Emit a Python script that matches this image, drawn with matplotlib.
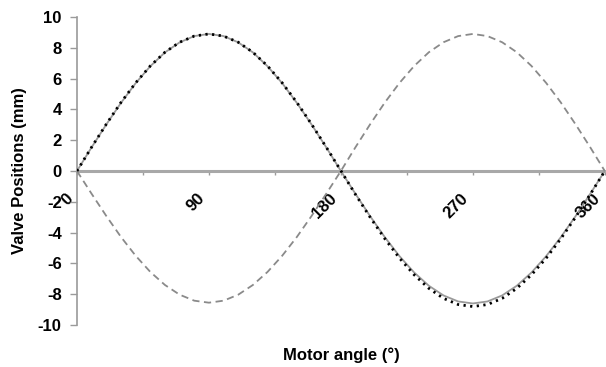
import matplotlib
matplotlib.use("Agg")
import matplotlib.pyplot as plt
from matplotlib.transforms import ScaledTranslation

# --- data ---
angle = list(range(0, 361, 10))

# measured valve position (black dotted)
dotted = [0, 1.55, 3.04, 4.45, 5.72, 6.82, 7.71, 8.36, 8.76, 8.90,
          8.76, 8.36, 7.71, 6.82, 5.72, 4.45, 3.04, 1.55, 0.02,
          -1.53, -3.01, -4.40, -5.66, -6.74, -7.62, -8.27, -8.67, -8.80,
          -8.67, -8.27, -7.62, -6.74, -5.66, -4.40, -3.01, -1.53, 0]

# model valve position (grey solid)
solid = [0, 1.54, 3.02, 4.42, 5.70, 6.80, 7.70, 8.35, 8.76, 8.90,
         8.76, 8.35, 7.70, 6.80, 5.70, 4.42, 3.02, 1.54, 0,
         -1.49, -2.94, -4.30, -5.53, -6.59, -7.45, -8.08, -8.47, -8.60,
         -8.47, -8.08, -7.45, -6.59, -5.53, -4.30, -2.94, -1.49, 0]

# second valve (grey dashed)
dashed = [0, -1.48, -2.92, -4.28, -5.50, -6.55, -7.40, -8.03, -8.42, -8.55,
          -8.42, -8.03, -7.40, -6.55, -5.50, -4.28, -2.92, -1.48, 0,
          1.55, 3.04, 4.45, 5.72, 6.82, 7.71, 8.36, 8.76, 8.90,
          8.76, 8.36, 7.71, 6.82, 5.72, 4.45, 3.04, 1.55, 0]

x_ticks = [0, 45, 90, 135, 180, 225, 270, 315, 360]
x_labels = ["0", "", "90", "", "180", "", "270", "", "360"]
y_ticks = [-10, -8, -6, -4, -2, 0, 2, 4, 6, 8, 10]

plt.rcParams['font.family'] = ['Liberation Sans', 'DejaVu Sans']

fig = plt.figure(figsize=(6.06, 3.67), dpi=100)
ax = fig.add_axes([0.127, 0.1144, 0.871, 0.8393])

gray = "#9a9a9a"
ax.plot(angle, solid, color=gray, lw=1.3, zorder=3)
ax.plot(angle, dashed, color="#8a8a8a", lw=1.3, ls=(0, (4, 2.5)), zorder=3)
ax.plot(angle, dotted, color="black", lw=2.0, ls=(0, (0.8, 1.6)), zorder=4)

ax.set_xlim(0, 360)
ax.set_ylim(-10, 10)

# axes style
for s in ["top", "right"]:
    ax.spines[s].set_visible(False)
ax.spines["left"].set_color(gray)
ax.spines["left"].set_linewidth(1.2)
ax.spines["bottom"].set_position(("data", 0))
ax.spines["bottom"].set_color("#a8a8a8")
ax.spines["bottom"].set_linewidth(2.2)
ax.spines["bottom"].set_zorder(2)

ax.set_yticks(y_ticks)
ax.set_yticklabels([str(v) for v in y_ticks], fontsize=12, fontweight="bold")
ax.tick_params(axis="y", direction="out", length=5, width=1, color=gray, pad=6)

ax.set_xticks(x_ticks)
ax.set_xticklabels(x_labels, fontsize=12, fontweight="bold", rotation=45,
                   ha="right", va="top", rotation_mode="anchor")
ax.tick_params(axis="x", direction="out", length=3, width=1, color=gray, pad=9)
# shift the rotated labels down-left like the original
shift = ScaledTranslation(-0.12, -0.03, fig.dpi_scale_trans)
for lab in ax.get_xticklabels():
    lab.set_transform(lab.get_transform() + shift)

ax.set_ylabel("Valve Positions (mm)", fontsize=12, fontweight="bold", labelpad=8)
fig.text(0.563, 0.033, "Motor angle (°)", fontsize=12, fontweight="bold",
         ha="center", va="center")

fig.savefig("out.png", dpi=100)
